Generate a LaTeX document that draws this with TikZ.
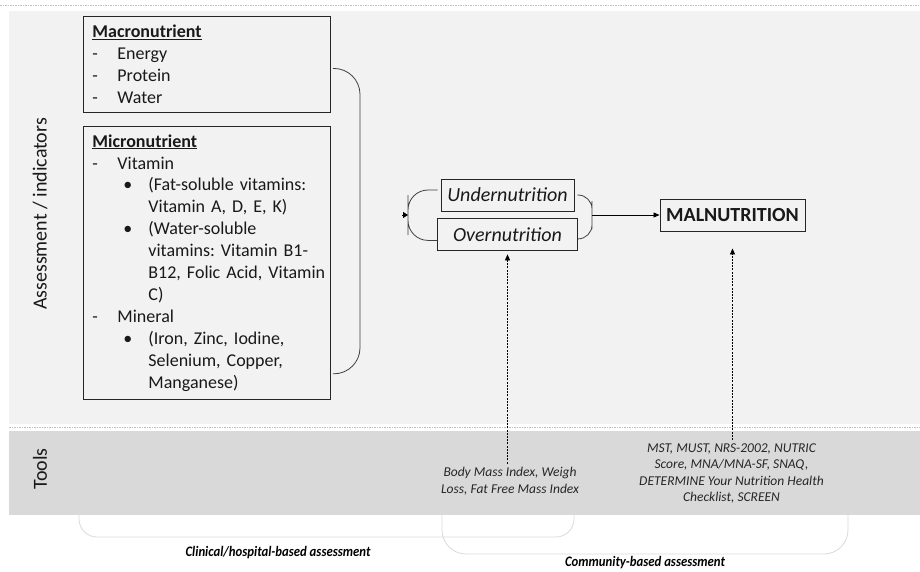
\documentclass[tikz,border=0pt]{standalone}
\usepackage{fontspec}
\setmainfont{Carlito}
\newfontfamily\narrowfont[FakeStretch=0.88]{Carlito}
\usepackage{tikz}
\usetikzlibrary{positioning, arrows.meta, calc}
\frenchspacing

\definecolor{bandlight}{HTML}{F2F2F2}
\definecolor{banddark}{HTML}{D9D9D9}
\definecolor{inkgrey}{HTML}{404040}
\definecolor{sepgrey}{HTML}{C0C0C0}

\newcommand{\nutdash}[1]{\makebox[25pt][l]{-}#1}
\newcommand{\nutbullet}[1]{\hspace*{31pt}\makebox[25pt][l]{\textbullet}\mbox{#1}}
\newcommand{\nutcont}[1]{\hspace*{56pt}\mbox{#1}}

\begin{document}
\begin{tikzpicture}[x=1pt, y=-1pt, >={Triangle[length=6pt, width=5pt]}, node distance=13pt,
      box/.style={draw=black!85, line width=0.9pt, fill=bandlight, align=left, inner xsep=9pt,
        text width=229pt, font=\fontsize{18}{21.9}\selectfont, text=black!90},
      state/.style={draw=black!85, line width=0.9pt, minimum height=32pt, inner sep=4pt,
        font=\fontsize{20}{24}\selectfont\itshape, text=black!90},
      tool/.style={align=center, font=\fontsize{13.5}{16.5}\selectfont\itshape, text=black!85},
      side/.style={rotate=90, font=\fontsize{20}{24}\selectfont, text=black!90},
      grp/.style={font=\fontsize{14.5}{17}\selectfont\narrowfont\bfseries\itshape},
      bracket/.style={draw=inkgrey, line width=0.8pt},
      grpline/.style={draw=black!15, line width=0.8pt},
      sepline/.style={draw=sepgrey, line width=0.6pt, dash pattern=on 1.5pt off 1pt},
      dasharrow/.style={->, line width=0.7pt, dash pattern=on 2pt off 1.2pt}]
    \useasboundingbox (0,0) rectangle (920,572);
    \fill[bandlight] (9,11) rectangle (920,424);
    \fill[banddark] (9,431) rectangle (920,515);
    \draw[sepline] (0,5) -- (920,5);
    \draw[sepline] (9,427.5) -- (920,427.5);

    \node[side] (assess) at (40,214) {Assessment / indicators};
    \node[side] (tools) at (40,469) {Tools};

    \node[box, minimum height=96pt, anchor=north west] (macro) at (83,16)
      {\underline{\textbf{Macronutrient}}\\ \nutdash{Energy}\\ \nutdash{Protein}\\ \nutdash{Water}};
    \node[box, minimum height=273pt, below=13pt of macro] (micro)
      {\underline{\textbf{Micronutrient}}\\
       \nutdash{Vitamin}\\
       \nutbullet{(Fat-soluble vitamins:}\\
       \nutcont{Vitamin A, D, E, K)}\\
       \nutbullet{(Water-soluble}\\
       \nutcont{vitamins: Vitamin B1-}\\
       \nutcont{B12, Folic Acid, Vitamin}\\
       \nutcont{C)}\\
       \nutdash{Mineral}\\
       \nutbullet{(Iron, Zinc, Iodine,}\\
       \nutcont{Selenium, Copper,}\\
       \nutcont{Manganese)}};

    \node[state, minimum width=133pt] (under) at (507.5,195) {Undernutrition};
    \node[state, minimum width=140pt, below=7pt of under] (over) {Overnutrition};
    \node[state, font=\fontsize{20}{24}\selectfont\bfseries, minimum width=145pt] (mal) at (732.5,215) {MALNUTRITION};

    \node[tool] (bmi) at (510,481) {Body Mass Index, Weigh\\Loss, Fat Free Mass Index};
    \node[tool] (mst) at (731.5,473.5)
      {MST, MUST, NRS-2002, NUTRIC\\Score, MNA/MNA-SF, SNAQ,\\DETERMINE Your Nutrition Health\\Checklist, SCREEN};

    \draw[bracket, rounded corners=26pt] ($(macro.east)+(2,4)$) -| (360,220) |- ($(micro.south east)+(2,-26)$);
    \coordinate (uol) at (408,215);
    \coordinate (uor) at (592,215);
    \draw[bracket, rounded corners=20pt] ($(under.west)+(-3,-5)$) -| (uol) |- ($(over.west)+(0,5.5)$);
    \draw[bracket, rounded corners=14pt] ($(under.east)+(3,0)$) -| (uor) |- ($(over.east)+(1,4)$);
    \draw[-{Triangle[length=5pt, width=6pt]}, line width=0.8pt] ($(uol)+(-6,0)$) -- (uol);
    \draw[->, line width=0.8pt] (uor) -- (mal.west);

    \draw[dasharrow, shorten >=3pt] (bmi.north -| over.south) -- (over.south);
    \draw[dasharrow, shorten >=17pt] (mst.north -| mal.south) -- (mal.south);

    \draw[grpline, rounded corners=18pt] (79,515) |- (326,537) -| (574,515);
    \draw[grpline, rounded corners=24pt] (442,515) |- (645,554) -| (848,515);
    \node[grp] (clin) at (278,553) {Clinical/hospital-based assessment};
    \node[grp] (comm) at (645,563) {Community-based assessment};
  \end{tikzpicture}
\end{document}
